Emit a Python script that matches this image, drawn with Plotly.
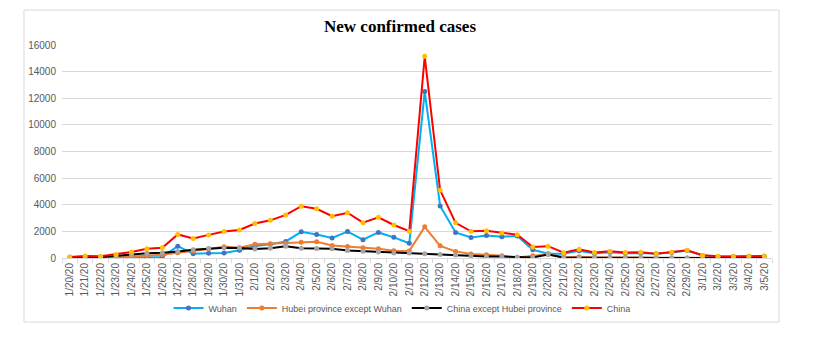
import plotly.graph_objs as go

# daily new confirmed cases
dates = (['1/%d/20' % d for d in range(20, 32)]
         + ['2/%d/20' % d for d in range(1, 30)]
         + ['3/%d/20' % d for d in range(1, 6)])

wuhan = [50, 60, 60, 60, 70, 46, 80, 892, 315, 356, 378, 576,
         894, 1033, 1242, 1967, 1766, 1501, 1985, 1379, 1921, 1552, 1104, 12500,
         3910, 1923, 1548, 1690, 1600, 1660, 615, 319, 314, 541, 348, 439,
         359, 372, 313, 415, 565,
         193, 111, 114, 131, 126]

hubei_ex_wuhan = [10, 10, 10, 35, 110, 180, 240, 399, 525, 676, 842, 771,
                  1027, 1070, 1103, 1189, 1221, 946, 856, 768, 697, 545, 534, 2340,
                  913, 497, 295, 242, 171, 33, 160, 290, 52, 89, 50, 60,
                  42, 37, 5, 2, 5,
                  3, 3, 0, 4, 13]

china_ex_hubei = [5, 77, 62, 154, 264, 365, 398, 480, 619, 705, 762, 755,
                  669, 726, 890, 731, 707, 696, 558, 509, 444, 381, 377, 312,
                  267, 221, 166, 116, 115, 56, 45, 258, 31, 18, 11, 9,
                  5, 24, 9, 10, 3,
                  6, 11, 5, 4, 4]

china = [77, 149, 131, 259, 444, 688, 769, 1771, 1459, 1737, 1982, 2102,
         2590, 2829, 3235, 3887, 3694, 3143, 3399, 2656, 3062, 2478, 2015, 15152,
         5090, 2641, 2009, 2048, 1886, 1749, 820, 889, 397, 648, 409, 508,
         406, 433, 327, 427, 573,
         202, 125, 119, 139, 143]

series = [
    ('Wuhan', wuhan, '#00B0F0', '#4472C4'),
    ('Hubei province except Wuhan', hubei_ex_wuhan, '#ED7D31', '#ED7D31'),
    ('China except Hubei province', china_ex_hubei, '#000000', '#A5A5A5'),
    ('China', china, '#FF0000', '#FFC000'),
]

fig = go.Figure()
for name, vals, line_col, marker_col in series:
    fig.add_trace(go.Scatter(
        x=dates, y=vals, name=name, mode='lines+markers',
        line=dict(color=line_col, width=2),
        marker=dict(color=marker_col, size=5),
    ))

# the page body adds an 8px margin, so the figure is drawn 8px in from the window corner
OFF = 8
W, H = 824 - 2 * OFF, 337 - 2 * OFF
# plot area on screen: x 62..772, y 45..258
L, T = 62 - OFF, 45 - OFF
R, B = W - (772 - OFF), H - (258 - OFF)
pw, ph = W - L - R, H - T - B

def px_x(x):
    return (x - OFF - L) / pw

def px_y(y):
    return (H - B - (y - OFF)) / ph

fig.update_layout(
    width=W, height=H,
    margin=dict(l=L, r=R, t=T, b=B, autoexpand=False),
    paper_bgcolor='white', plot_bgcolor='white',
    font=dict(family='Liberation Sans, Arial, sans-serif', size=10, color='#595959'),
    title=dict(text='<b>New confirmed cases</b>', x=(400 - OFF) / W, xanchor='center',
               y=1 - (26 - OFF) / H, yanchor='middle',
               font=dict(family='Liberation Serif, Times New Roman, serif', size=17, color='black')),
    showlegend=True,
    legend=dict(orientation='h', x=px_x(402), xanchor='center', y=px_y(308), yanchor='middle',
                font=dict(size=9, color='#595959'), itemwidth=30, bgcolor='rgba(0,0,0,0)'),
    xaxis=dict(type='category', range=[-0.5, len(dates) - 0.5], tickangle=-90,
               showgrid=False, showline=True, linecolor='#D9D9D9', linewidth=1,
               ticks='outside', ticklen=4, tickcolor='#D9D9D9', tickson='boundaries',
               tickfont=dict(size=10, color='#595959'), zeroline=False, automargin=False),
    yaxis=dict(range=[0, 16000], dtick=2000, tickformat='d', showgrid=True,
               gridcolor='#D9D9D9', gridwidth=1, automargin=False, ticklabelstandoff=5,
               showline=False, zeroline=False, ticks='', tickfont=dict(size=10, color='#595959')),
    shapes=[dict(type='rect', xref='paper', yref='paper',
                 x0=px_x(24), x1=px_x(779), y0=px_y(322), y1=px_y(10),
                 line=dict(color='#D9D9D9', width=1), layer='below')],
)

fig.write_html('out.html')
